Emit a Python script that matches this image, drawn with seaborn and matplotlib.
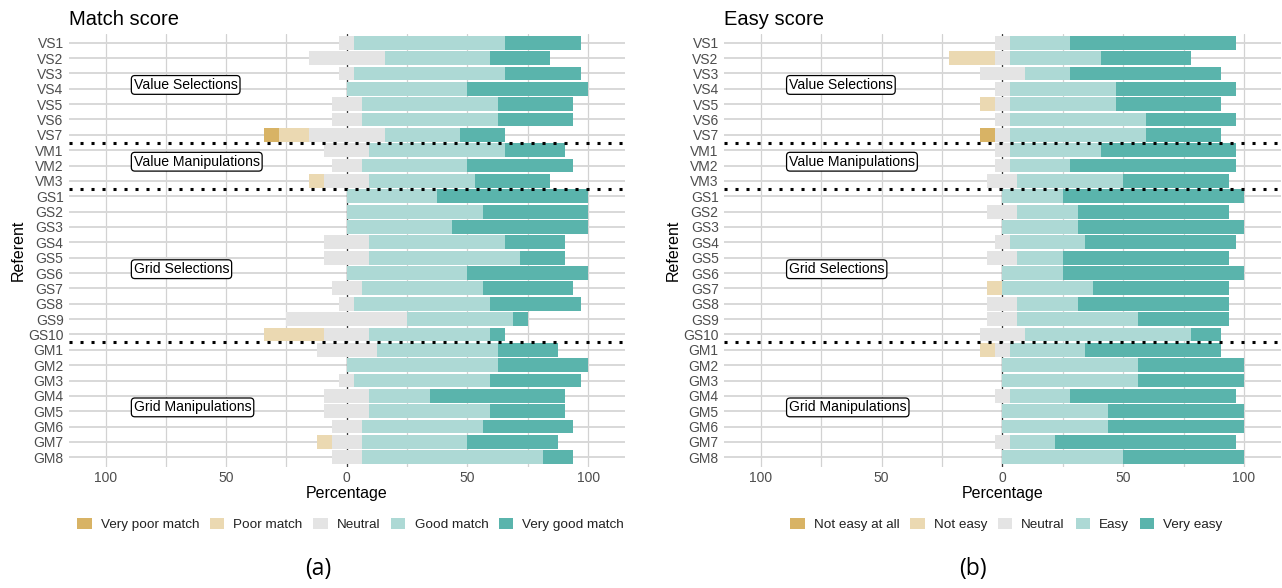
import matplotlib
matplotlib.use("Agg")
import matplotlib.pyplot as plt
from matplotlib.patches import Patch
from matplotlib.ticker import FixedLocator
import seaborn as sns
import pandas as pd

# ---------------- data (percent of respondents) ----------------
referents = ["VS1", "VS2", "VS3", "VS4", "VS5", "VS6", "VS7",
             "VM1", "VM2", "VM3",
             "GS1", "GS2", "GS3", "GS4", "GS5", "GS6", "GS7", "GS8", "GS9", "GS10",
             "GM1", "GM2", "GM3", "GM4", "GM5", "GM6", "GM7", "GM8"]

match_levels = ["Very poor match", "Poor match", "Neutral", "Good match", "Very good match"]
match_very_poor = [0, 0, 0, 0, 0, 0, 6.25,
                   0, 0, 0,
                   0, 0, 0, 0, 0, 0, 0, 0, 0, 0,
                   0, 0, 0, 0, 0, 0, 0, 0]
match_poor = [0, 0, 0, 0, 0, 0, 12.5,
              0, 0, 6.25,
              0, 0, 0, 0, 0, 0, 0, 0, 0, 25,
              0, 0, 0, 0, 0, 0, 6.25, 0]
match_neutral = [6.25, 31.25, 6.25, 0, 12.5, 12.5, 31.25,
                 18.75, 12.5, 18.75,
                 0, 0, 0, 18.75, 18.75, 0, 12.5, 6.25, 50, 18.75,
                 25, 0, 6.25, 18.75, 18.75, 12.5, 12.5, 12.5]
match_good = [62.5, 43.75, 62.5, 50, 56.25, 56.25, 31.25,
              56.25, 43.75, 43.75,
              37.5, 56.25, 43.75, 56.25, 62.5, 50, 50, 56.25, 43.75, 50,
              50, 62.5, 56.25, 25, 50, 50, 43.75, 75]
match_very_good = [31.25, 25, 31.25, 50, 31.25, 31.25, 18.75,
                   25, 43.75, 31.25,
                   62.5, 43.75, 56.25, 25, 18.75, 50, 37.5, 37.5, 6.25, 6.25,
                   25, 37.5, 37.5, 56.25, 31.25, 37.5, 37.5, 12.5]

easy_levels = ["Not easy at all", "Not easy", "Neutral", "Easy", "Very easy"]
easy_not_at_all = [0, 0, 0, 0, 0, 0, 6.25,
                   0, 0, 0,
                   0, 0, 0, 0, 0, 0, 0, 0, 0, 0,
                   0, 0, 0, 0, 0, 0, 0, 0]
easy_not_easy = [0, 18.75, 0, 0, 6.25, 0, 0,
                 0, 0, 0,
                 0, 0, 0, 0, 0, 0, 6.25, 0, 0, 0,
                 6.25, 0, 0, 0, 0, 0, 0, 0]
easy_neutral = [6.25, 6.25, 18.75, 6.25, 6.25, 6.25, 6.25,
                6.25, 6.25, 12.5,
                0, 12.5, 0, 6.25, 12.5, 0, 0, 12.5, 12.5, 18.75,
                6.25, 0, 0, 6.25, 0, 0, 6.25, 0]
easy_easy = [25, 37.5, 18.75, 43.75, 43.75, 56.25, 56.25,
             37.5, 25, 43.75,
             25, 25, 31.25, 31.25, 18.75, 25, 37.5, 25, 50, 68.75,
             31.25, 56.25, 56.25, 25, 43.75, 43.75, 18.75, 50]
easy_very_easy = [68.75, 37.5, 62.5, 50, 43.75, 37.5, 31.25,
                  56.25, 68.75, 43.75,
                  75, 62.5, 68.75, 62.5, 68.75, 75, 56.25, 62.5, 37.5, 12.5,
                  56.25, 43.75, 43.75, 68.75, 56.25, 56.25, 75, 50]

group_labels = ["Value Selections", "Value Manipulations", "Grid Selections", "Grid Manipulations"]
group_label_rows = [2.75, 7.75, 14.75, 23.75]
group_separators = [6.5, 9.5, 19.5]

colors = ["#D8B365", "#EBD9B2", "#E4E4E4", "#ADD9D5", "#5AB4AC"]

# ---------------- style ----------------
sns.set_theme(style="white")
plt.rcParams["font.family"] = ["Liberation Sans", "DejaVu Sans"]

W, H = 1282, 588
fig = plt.figure(figsize=(W / 100, H / 100), dpi=100)

def fx(px):
    return px / W

def fy(py):
    return 1 - py / H

ax_top, ax_bot = 33.5, 466.5
axes_px = [(68.6, 625.0), (723.7, 1281.0)]


def draw_panel(ax, levels, vals, title, title_x, caption, caption_x):
    vneg2, vneg1, vneu, vpos1, vpos2 = vals
    df = pd.DataFrame({
        "Referent": referents,
        "neg2": vneg2, "neg1": vneg1, "neu": vneu, "pos1": vpos1, "pos2": vpos2,
    })
    half = df["neu"] / 2
    layers = [
        (half + df["pos1"] + df["pos2"], colors[4]),
        (half + df["pos1"], colors[3]),
        (-(half + df["neg1"] + df["neg2"]), colors[0]),
        (-(half + df["neg1"]), colors[1]),
        (half, colors[2]),
        (-half, colors[2]),
    ]
    for extent, col in layers:
        d = pd.DataFrame({"Referent": referents, "ext": extent})
        sns.barplot(data=d, x="ext", y="Referent", order=referents, color=col,
                    width=0.9, errorbar=None, linewidth=0, saturation=1,
                    ax=ax, zorder=2)

    ax.set_xlim(-115.3, 115.3)
    ax.set_ylim(len(referents) - 1 + 0.6, -0.6)
    ax.set_xticks([-100, -50, 0, 50, 100])
    ax.set_xticklabels(["100", "50", "0", "50", "100"])
    ax.xaxis.set_minor_locator(FixedLocator([-75, -25, 25, 75]))
    ax.set_axisbelow(True)
    ax.grid(which="major", axis="x", color="#D2D2D2", lw=0.9)
    ax.grid(which="minor", axis="x", color="#D2D2D2", lw=0.9)
    ax.grid(which="major", axis="y", color="#D8D8D8", lw=1.4)
    for s in ax.spines.values():
        s.set_visible(False)
    ax.tick_params(axis="both", which="both", length=0, labelsize=10,
                   labelcolor="#4D4D4D", pad=3.6)
    ax.set_xlabel("")
    ax.set_ylabel("")

    ax.axvline(0, color="#3A3A3A", lw=0.9, zorder=1.5)
    for yy in group_separators:
        ax.axhline(yy, color="black", lw=2.2, linestyle=(0, (1, 2.6)), zorder=3)
    for lab, row in zip(group_labels, group_label_rows):
        ax.text(-88.3, row, lab, ha="left", va="center", fontsize=10.1, color="black",
                zorder=4,
                bbox=dict(boxstyle="round,pad=0.17,rounding_size=0.25",
                          fc="white", ec="black", lw=0.9))

    l, r = axes_px[0] if caption == "(a)" else axes_px[1]
    cx = (l + r) / 2
    fig.text(fx(title_x), fy(25), title, fontsize=14.5, color="black",
             ha="left", va="baseline")
    fig.text(fx(cx), fy(498.3), "Percentage", fontsize=11.5, color="black",
             ha="center", va="baseline")
    fig.text(fx(l - 50.6), fy((ax_top + ax_bot) / 2), "Referent", fontsize=11.5,
             color="black", rotation=90, ha="center", va="center")

    handles = [Patch(facecolor=c, edgecolor="none", label=lv) for c, lv in zip(colors, levels)]
    leg = fig.legend(handles=handles, loc="center", ncol=5,
                     bbox_to_anchor=(fx(caption_x[1]), fy(524.5)),
                     frameon=False, fontsize=9.7, handlelength=1.07,
                     handleheight=0.95, handletextpad=0.67, columnspacing=0.8,
                     borderaxespad=0, borderpad=0)
    for t in leg.get_texts():
        t.set_color("#222222")

    fig.text(fx(caption_x[0]), fy(569), caption, fontsize=16.5,
             family=["Open Sans", "DejaVu Sans"], ha="center", va="center",
             color="black")


for (l, r), levels, vals, title, caption, cap in zip(
        axes_px,
        [match_levels, easy_levels],
        [[match_very_poor, match_poor, match_neutral, match_good, match_very_good],
         [easy_not_at_all, easy_not_easy, easy_neutral, easy_easy, easy_very_easy]],
        ["Match score", "Easy score"],
        ["(a)", "(b)"],
        [(318, 350.7), (972.6, 1006.5)]):
    ax = fig.add_axes([fx(l), fy(ax_bot), (r - l) / W, (ax_bot - ax_top) / H])
    draw_panel(ax, levels, vals, title, l, caption, cap)

fig.savefig("out.png", dpi=100)
